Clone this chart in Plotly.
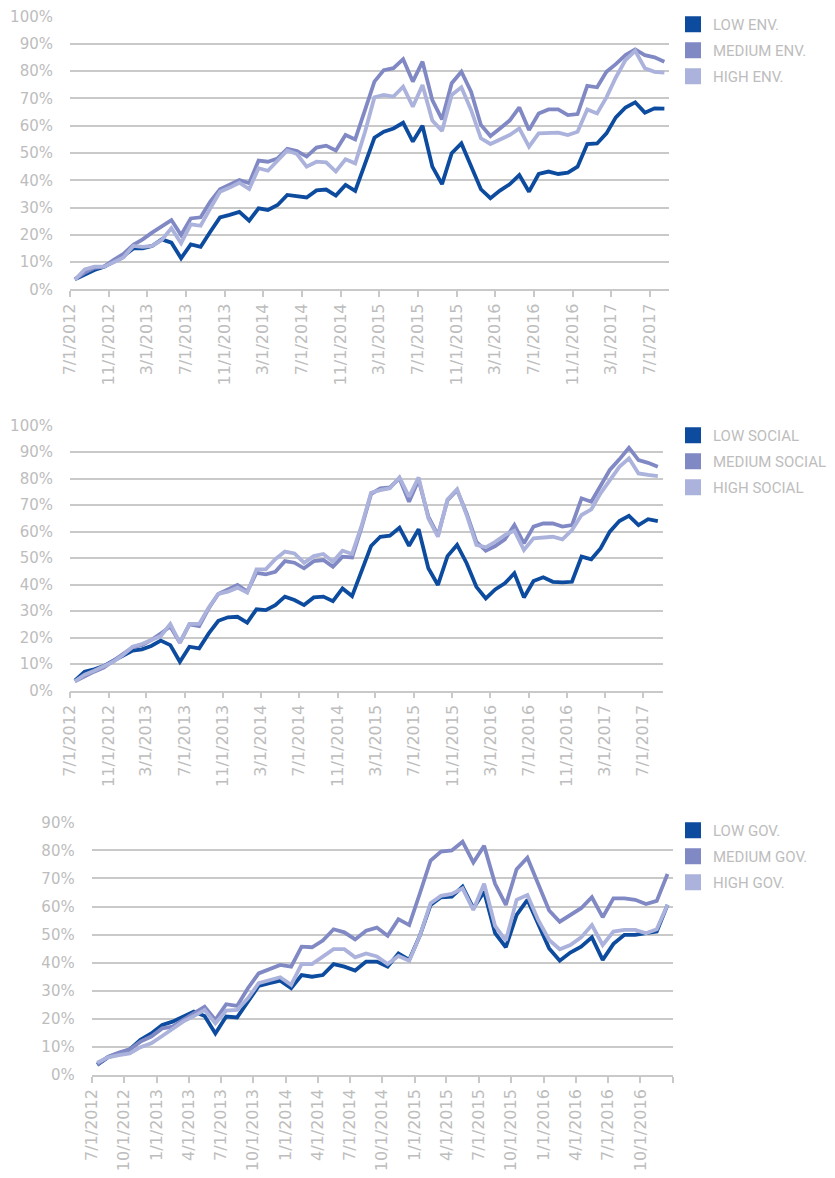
import pandas as pd
import plotly.graph_objects as go

# ---------------- data ----------------
months_a = pd.date_range("2012-07-01", periods=62, freq="MS")
months_b = pd.date_range("2012-07-01", periods=54, freq="MS")

low_env = [3.7, 5.6, 7.1, 8.3, 10.1, 12.2, 15.0, 15.0, 15.9, 18.3, 17.1, 11.4, 16.5, 15.6, 21.1, 26.4,
           27.3, 28.4, 25.2, 29.7, 29.1, 30.9, 34.6, 34.2, 33.7, 36.3, 36.6, 34.4, 38.3, 36.1, 45.6, 55.6,
           57.8, 59.0, 61.1, 54.2, 60.0, 45.0, 38.6, 49.9, 53.5, 45.0, 36.7, 33.4, 36.2, 38.5, 41.9, 35.8,
           42.3, 43.2, 42.3, 42.8, 45.0, 53.3, 53.5, 57.2, 63.1, 66.7, 68.6, 64.8, 66.4, 66.3]
medium_env = [3.7, 6.1, 7.9, 8.3, 10.8, 13.0, 16.3, 18.3, 20.8, 23.2, 25.4, 19.9, 26.0, 26.4, 32.2, 36.7,
              38.3, 40.1, 38.9, 47.2, 46.8, 48.0, 51.5, 50.7, 48.7, 52.0, 52.7, 50.9, 56.6, 55.0, 65.8, 76.2,
              80.4, 81.1, 84.4, 76.2, 83.5, 69.4, 62.3, 75.6, 79.8, 72.5, 60.3, 56.2, 59.0, 61.9, 66.7, 58.4,
              64.5, 66.0, 66.0, 63.9, 64.3, 74.6, 74.1, 79.8, 82.6, 85.9, 88.0, 85.9, 85.1, 83.5]
high_env = [3.5, 7.3, 8.3, 8.3, 9.9, 11.7, 15.9, 15.6, 15.9, 18.1, 22.4, 16.9, 23.8, 23.3, 29.7, 35.8,
            37.3, 39.1, 36.8, 44.4, 43.5, 47.2, 50.9, 49.6, 45.0, 46.8, 46.6, 43.2, 47.7, 46.2, 57.8, 70.4,
            71.3, 70.7, 74.3, 67.0, 74.9, 61.9, 58.1, 71.3, 74.1, 65.8, 55.4, 53.3, 55.0, 56.6, 59.0, 52.3,
            57.2, 57.5, 57.5, 56.6, 57.8, 66.0, 64.5, 70.4, 77.7, 84.1, 87.5, 81.1, 79.8, 79.5]

low_social = [3.8, 7.2, 8.1, 9.3, 11.3, 13.1, 15.1, 15.6, 16.9, 18.9, 17.2, 10.9, 16.6, 16.0, 21.6, 26.4,
              27.7, 27.9, 25.7, 30.7, 30.4, 32.3, 35.5, 34.2, 32.3, 35.2, 35.5, 33.8, 38.6, 35.7, 44.9, 54.6,
              58.1, 58.5, 61.5, 54.7, 60.9, 46.2, 39.9, 50.8, 55.0, 48.1, 39.2, 34.8, 38.2, 40.5, 44.3, 35.2,
              41.4, 42.8, 41.1, 40.9, 41.1, 50.6, 49.6, 53.7, 60.0, 64.0, 66.0, 62.5, 64.7, 64.0]
medium_social = [3.5, 5.5, 7.2, 8.7, 11.2, 13.5, 16.4, 17.2, 19.1, 21.6, 24.2, 18.1, 25.0, 24.4, 31.1, 36.5,
                 38.2, 39.9, 37.4, 44.5, 43.9, 44.9, 48.9, 48.3, 46.2, 48.9, 49.3, 46.8, 50.6, 50.3, 61.9, 74.2,
                 76.4, 76.7, 80.1, 71.3, 79.5, 65.7, 58.7, 71.9, 75.7, 66.9, 56.2, 52.8, 54.6, 57.1, 62.5, 55.6,
                 61.9, 63.1, 63.1, 61.9, 62.5, 72.6, 71.3, 77.2, 83.3, 87.3, 91.7, 87.0, 86.0, 84.5]
high_social = [3.5, 6.0, 7.5, 9.1, 10.9, 13.5, 16.6, 17.6, 18.9, 20.6, 25.2, 18.1, 25.2, 25.2, 31.4, 36.5,
               37.4, 38.9, 37.0, 45.8, 45.8, 49.6, 52.5, 51.8, 48.3, 50.8, 51.6, 48.7, 52.8, 51.6, 62.5, 74.7,
               75.7, 76.4, 80.5, 73.2, 80.5, 65.0, 58.1, 72.2, 76.0, 66.3, 55.0, 54.1, 56.2, 58.7, 60.4, 53.1,
               57.5, 57.7, 58.1, 57.1, 60.6, 66.3, 68.4, 74.5, 79.7, 84.5, 87.7, 82.0, 81.4, 81.0]

low_gov = [3.6, 6.3, 7.7, 9.1, 12.5, 14.8, 17.8, 19.0, 20.8, 22.6, 21.0, 14.8, 20.8, 20.5, 26.1, 31.7,
           32.7, 33.6, 30.9, 35.6, 35.0, 35.6, 39.5, 38.6, 37.2, 40.4, 40.4, 38.6, 43.3, 41.0, 49.9, 60.6,
           63.3, 63.5, 67.1, 59.4, 65.3, 50.5, 45.5, 57.0, 62.4, 54.0, 45.1, 40.7, 43.6, 45.7, 49.0, 41.0,
           46.7, 49.9, 49.9, 50.5, 51.1, 60.6]
medium_gov = [3.8, 6.5, 8.0, 9.1, 11.9, 13.7, 16.6, 17.2, 19.6, 22.0, 24.3, 19.6, 25.2, 24.6, 30.9, 36.2,
              37.6, 39.2, 38.6, 45.7, 45.5, 47.9, 51.9, 50.8, 48.3, 51.4, 52.5, 49.6, 55.5, 53.4, 65.0, 76.4,
              79.6, 80.0, 83.1, 75.7, 81.6, 68.1, 60.6, 73.3, 77.4, 68.3, 58.6, 54.6, 57.0, 59.4, 63.3, 56.2,
              62.9, 62.9, 62.4, 60.9, 62.0, 71.6]
high_gov = [4.4, 6.3, 7.1, 7.7, 9.9, 11.3, 13.9, 16.6, 19.0, 21.0, 23.2, 18.4, 22.9, 23.2, 27.3, 32.7,
            33.8, 34.8, 32.1, 39.5, 39.5, 42.2, 44.8, 44.8, 41.9, 43.3, 42.2, 39.5, 42.4, 40.7, 49.9, 61.2,
            63.8, 64.5, 66.5, 58.8, 68.1, 53.1, 47.9, 62.4, 64.1, 55.2, 48.1, 44.8, 46.3, 49.0, 53.4, 46.3,
            51.1, 51.7, 51.7, 50.5, 51.9, 60.6]

names_env = ["LOW ENV.", "MEDIUM ENV.", "HIGH ENV."]
names_social = ["LOW SOCIAL", "MEDIUM SOCIAL", "HIGH SOCIAL"]
names_gov = ["LOW GOV.", "MEDIUM GOV.", "HIGH GOV."]
colors = ["#0D4B9F", "#8189C5", "#ABB2DB"]

tick_dates_a = pd.date_range("2012-07-01", "2017-07-01", freq="4MS")
tick_dates_b = pd.date_range("2012-07-01", "2017-01-01", freq="3MS")


def label(d):
    return f"{d.month}/{d.day}/{d.year}"


tick_text_a = [label(d) for d in tick_dates_a]
tick_text_b = [label(d) for d in tick_dates_b[:-1]] + [""]

# ---------------- figure ----------------
W, H = 835, 1178
OFF = 8  # page body margin offset of the figure
GRID = "#C9C9C9"
TXT = "#BDBDBD"
TICKFONT = dict(family="DejaVu Sans", size=15, color=TXT)

fig = go.Figure()

panels = [
    dict(months=months_a, series=[low_env, medium_env, high_env], names=names_env,
         xa="x", ya="y", leg="legend"),
    dict(months=months_a, series=[low_social, medium_social, high_social], names=names_social,
         xa="x2", ya="y2", leg="legend2"),
    dict(months=months_b, series=[low_gov, medium_gov, high_gov], names=names_gov,
         xa="x3", ya="y3", leg="legend3"),
]

for p in panels:
    for vals, name, col in zip(p["series"], p["names"], colors):
        fig.add_trace(go.Scatter(
            x=p["months"], y=vals, mode="lines", name=name,
            xperiod="M1", xperiodalignment="middle",
            line=dict(color=col, width=3.8),
            xaxis=p["xa"], yaxis=p["ya"], showlegend=False, hoverinfo="skip"))
    for k, (name, col) in enumerate(zip(p["names"], colors)):
        fig.add_trace(go.Scatter(
            x=[None], y=[None], mode="markers", name=name,
            marker=dict(symbol="square", size=16, color=col),
            xaxis=p["xa"], yaxis=p["ya"], legend=p["leg"], legendgroup=f"{p['leg']}_{k}",
            showlegend=True))


def xdom(a, b):
    return [(a - OFF) / W, (b - OFF) / W]


def ydom(top, bottom):
    return [1 - (bottom - OFF) / H, 1 - (top - OFF) / H]


xaxis_common = dict(
    type="date", showgrid=False, showline=True, linecolor=GRID, linewidth=1.5,
    ticks="outside", ticklen=6, tickcolor=GRID, tickwidth=1.5,
    tickangle=-90, tickfont=dict(family="DejaVu Sans", size=16, color=TXT),
    zeroline=False, fixedrange=True, automargin=False, ticklabeloverflow="allow",
)
yaxis_common = dict(
    showgrid=True, gridcolor=GRID, gridwidth=1.5, zeroline=False, showline=False,
    ticks="", ticksuffix="%", dtick=10, tickfont=TICKFONT, ticklabelstandoff=16,
    fixedrange=True, automargin=False, ticklabeloverflow="allow",
)

fig.update_layout(
    width=W, height=H, margin=dict(l=0, r=0, t=0, b=0, autoexpand=False),
    paper_bgcolor="white", plot_bgcolor="white",
    xaxis=dict(xaxis_common, domain=xdom(70, 669.3), anchor="y",
               range=["2012-07-01", "2017-09-01"],
               tickvals=list(tick_dates_a), ticktext=tick_text_a),
    yaxis=dict(yaxis_common, domain=ydom(16.7, 289.3), anchor="x", range=[0, 100]),
    xaxis2=dict(xaxis_common, domain=xdom(70, 662.7), anchor="y2",
                range=["2012-07-01", "2017-09-01"],
                tickvals=list(tick_dates_a), ticktext=tick_text_a),
    yaxis2=dict(yaxis_common, domain=ydom(425.7, 690.7), anchor="x2", range=[0, 100]),
    xaxis3=dict(xaxis_common, domain=xdom(91.7, 673), anchor="y3",
                range=["2012-07-01", "2017-01-01"],
                tickvals=list(tick_dates_b), ticktext=tick_text_b),
    yaxis3=dict(yaxis_common, domain=ydom(822.3, 1075), anchor="x3", range=[0, 90]),
)

legend_common = dict(
    xanchor="left", yanchor="top", xref="container", yref="container",
    bgcolor="rgba(0,0,0,0)",
    font=dict(family="Roboto", size=15, color=TXT),
    traceorder="grouped", tracegroupgap=3.5, itemclick=False, itemdoubleclick=False,
)
LEG_X = (673 - OFF) / W
fig.update_layout(
    legend=dict(legend_common, x=LEG_X, y=1 - (8 - OFF) / H),
    legend2=dict(legend_common, x=LEG_X, y=1 - (419 - OFF) / H),
    legend3=dict(legend_common, x=LEG_X, y=1 - (814 - OFF) / H),
)

fig.write_html("out.html")
